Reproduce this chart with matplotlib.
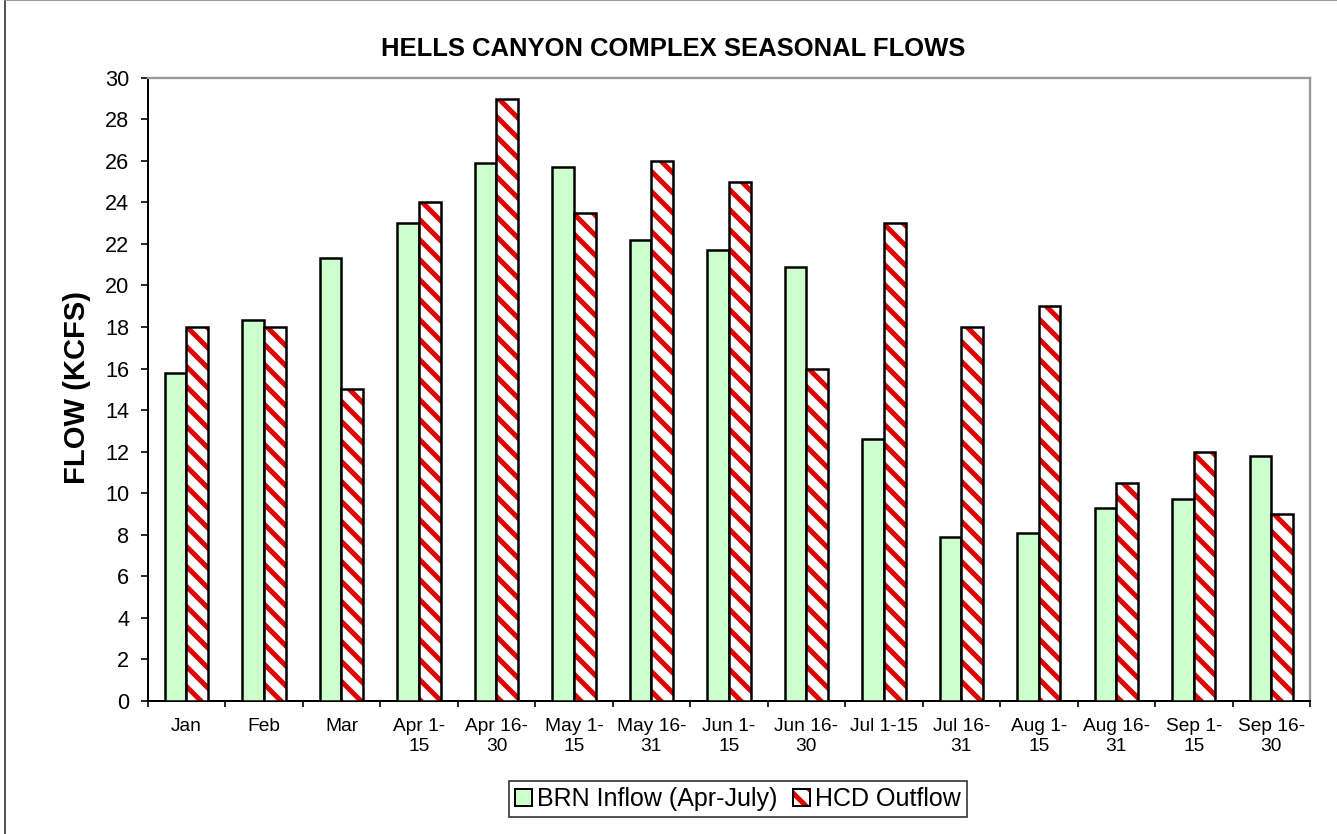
import matplotlib
matplotlib.use("Agg")
import matplotlib.pyplot as plt
import numpy as np
from matplotlib.patches import Patch
from matplotlib.lines import Line2D

# -------------------------
# Data
# -------------------------
periods = ["Jan", "Feb", "Mar", "Apr 1-\n15", "Apr 16-\n30", "May 1-\n15",
           "May 16-\n31", "Jun 1-\n15", "Jun 16-\n30", "Jul 1-15", "Jul 16-\n31",
           "Aug 1-\n15", "Aug 16-\n31", "Sep 1-\n15", "Sep 16-\n30"]

brn_inflow = [15.8, 18.35, 21.3, 23.0, 25.9, 25.7, 22.2, 21.7, 20.9, 12.6,
              7.9, 8.1, 9.3, 9.7, 11.8]
hcd_outflow = [18.0, 18.0, 15.0, 24.0, 29.0, 23.5, 26.0, 25.0, 16.0, 23.0,
               18.0, 19.0, 10.5, 12.0, 9.0]

yticks = list(range(0, 31, 2))

# -------------------------
# Style
# -------------------------
plt.rcParams["font.family"] = ["Liberation Sans", "DejaVu Sans"]
plt.rcParams["hatch.linewidth"] = 3.0

green = "#CCFFCC"
red = "#E00000"
stripes = "\\\\"   # two backslashes -> denser diagonal stripes

x = np.arange(len(periods))
width = 0.28

fig = plt.figure(figsize=(1337 / 120, 834 / 120), dpi=120)
ax = fig.add_axes([0.1105, 0.1595, 0.8693, 0.7473])

# -------------------------
# Plot
# -------------------------
ax.bar(x - width / 2, brn_inflow, width, color=green, edgecolor="black",
       linewidth=1.5, zorder=3)
# hatched bars: red stripes on white, then black outline on top
ax.bar(x + width / 2, hcd_outflow, width, color="white", edgecolor=red,
       hatch=stripes, linewidth=0, zorder=3)
ax.bar(x + width / 2, hcd_outflow, width, fill=False, edgecolor="black",
       linewidth=1.5, zorder=4)

ax.set_xlim(-0.5, len(periods) - 0.5)
ax.set_ylim(0, 30)
ax.set_yticks(yticks)
ax.tick_params(axis="y", direction="out", length=4.2, width=1.0,
               labelsize=13, pad=7)

ax.set_xticks(x)
ax.set_xticklabels(periods, fontsize=11.5, linespacing=1.25)
ax.set_xticks(np.arange(-0.5, len(periods), 1), minor=True)
ax.tick_params(axis="x", which="major", length=0, pad=10)
ax.tick_params(axis="x", which="minor", direction="out", length=3.6, width=1.0)

for side in ["left", "bottom"]:
    ax.spines[side].set_color("black")
    ax.spines[side].set_linewidth(1.2)
for side in ["top", "right"]:
    ax.spines[side].set_color("#9A9A9A")
    ax.spines[side].set_linewidth(1.4)

fig.text(673 / 1337, 1 - 56 / 834, "HELLS CANYON COMPLEX SEASONAL FLOWS",
         ha="center", va="baseline", fontsize=15.4, fontweight="bold")
fig.text(76.7 / 1337, 1 - 388 / 834, "FLOW (KCFS)", rotation=90,
         ha="center", va="center", fontsize=17.5, fontweight="bold")

h_green = Patch(facecolor=green, edgecolor="black", linewidth=1.2)
h_hatch = Patch(facecolor="white", edgecolor=red, hatch=stripes, linewidth=0)
h_edge = Patch(fill=False, edgecolor="black", linewidth=1.2)
leg = fig.legend([h_green, (h_hatch, h_edge)],
                 ["BRN Inflow (Apr-July)", "HCD Outflow"],
                 loc="center", bbox_to_anchor=(738 / 1337, 1 - 799 / 834),
                 ncol=2, fontsize=15, frameon=True, fancybox=False,
                 handlelength=0.7, handleheight=0.7, handletextpad=0.2,
                 columnspacing=0.6, borderpad=0.25, borderaxespad=0)
leg.get_frame().set_edgecolor("black")
leg.get_frame().set_linewidth(1.0)

# chart border (left and top edges)
fig.add_artist(Line2D([5 / 1337, 5 / 1337], [0, 1], transform=fig.transFigure,
                      color="#333333", linewidth=1.0))
fig.add_artist(Line2D([5 / 1337, 1], [0.9995, 0.9995], transform=fig.transFigure,
                      color="#888888", linewidth=1.0))

plt.savefig("out.png", dpi=120)
